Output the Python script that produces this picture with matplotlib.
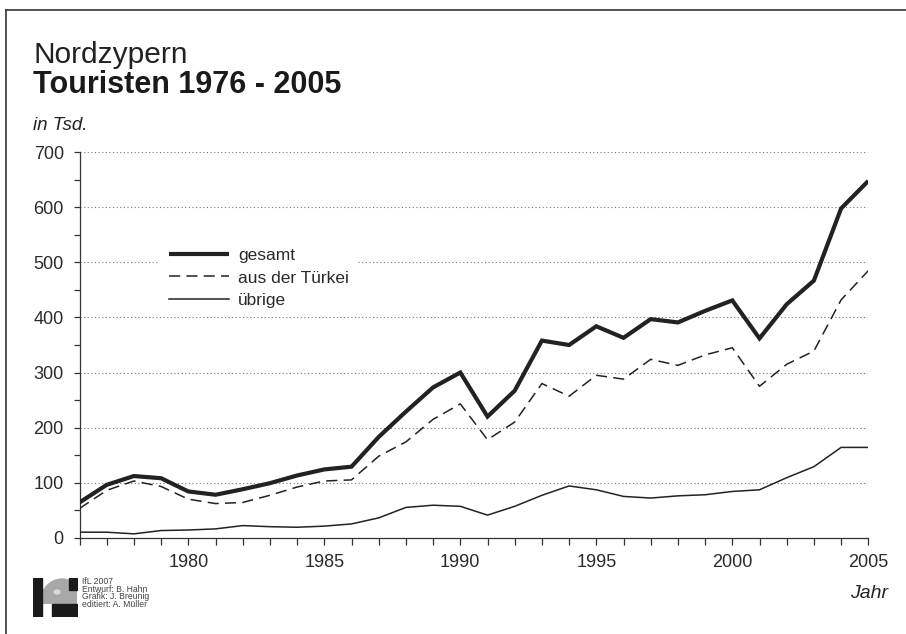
import matplotlib
matplotlib.use("Agg")
import matplotlib.pyplot as plt
from matplotlib.ticker import FixedLocator, FuncFormatter
from matplotlib.patches import Rectangle, Ellipse
from matplotlib.lines import Line2D

plt.rcParams['font.family'] = ['Liberation Sans', 'DejaVu Sans']
plt.rcParams['lines.scale_dashes'] = False

years = list(range(1976, 2006))
gesamt = [64, 96, 112, 108, 84, 78, 88, 99, 113, 124, 129, 183, 229, 273, 300,
          220, 267, 358, 350, 384, 363, 397, 391, 412, 431, 362, 424, 467, 598, 648]
tuerkei = [53, 86, 103, 93, 70, 62, 64, 77, 92, 103, 105, 148, 174, 215, 243,
           178, 210, 280, 257, 295, 288, 324, 313, 332, 345, 275, 315, 339, 432, 485]
uebrige = [10, 10, 7, 13, 14, 16, 22, 20, 19, 21, 25, 36, 55, 59, 57,
           41, 57, 77, 94, 87, 75, 72, 76, 78, 84, 87, 109, 129, 164, 164]
labels = ['gesamt', 'aus der Türkei', 'übrige']
yticks_major = [0, 100, 200, 300, 400, 500, 600, 700]
yticks_minor = [50, 150, 250, 350, 450, 550, 650]
xlabel_years = [1980, 1985, 1990, 1995, 2000, 2005]

W, H = 906, 634
fig = plt.figure(figsize=(W / 100, H / 100), dpi=100)
fig.patch.set_facecolor('white')

def fx(px):
    return px / W

def fy(py):
    return 1 - py / H

ax = fig.add_axes([fx(79.5), fy(537.7), fx(868.3) - fx(79.5), fy(152.3) - fy(537.7)])
ax.set_xlim(1976, 2005)
ax.set_ylim(0, 700)
ax.patch.set_alpha(0)

dark = '#222222'
for v in yticks_major[1:]:
    ax.plot([1976, 2005], [v, v], color='#777777', lw=0.8, ls=(0, (0.8, 1.8)), zorder=1)

ax.plot(years, uebrige, color=dark, lw=1.1, zorder=3, solid_joinstyle='miter')
ax.plot(years, tuerkei, color=dark, lw=1.1, ls=(0, (8, 4.5)), zorder=3)
ax.plot(years, gesamt, color=dark, lw=3.0, zorder=4, solid_joinstyle='miter', solid_capstyle='butt')

for s in ['top', 'right']:
    ax.spines[s].set_visible(False)
for s in ['left', 'bottom']:
    ax.spines[s].set_color('#333333')
    ax.spines[s].set_linewidth(0.9)

ax.xaxis.set_major_locator(FixedLocator(years))
ax.xaxis.set_major_formatter(FuncFormatter(lambda v, p: str(int(round(v))) if int(round(v)) in xlabel_years else ''))
ax.yaxis.set_major_locator(FixedLocator(yticks_major))
ax.yaxis.set_minor_locator(FixedLocator(yticks_minor))
ax.tick_params(axis='x', direction='out', length=5, width=0.9, color='#333333',
               labelsize=13, labelcolor='#2a2a2a', pad=7)
ax.tick_params(axis='y', which='both', direction='out', length=4.3, width=0.9, color='#333333',
               labelsize=13, labelcolor='#2a2a2a', pad=7)

handles = [Line2D([], [], color=dark, lw=3.0, solid_capstyle='butt'),
           Line2D([], [], color=dark, lw=1.1, ls=(0, (8, 4.5))),
           Line2D([], [], color=dark, lw=1.1)]
leg = ax.legend(handles, labels, loc='center left', bbox_to_anchor=(fx(160), fy(278)),
                bbox_transform=fig.transFigure, borderaxespad=0, borderpad=0.5,
                handlelength=3.5, handletextpad=0.5, labelspacing=0.42,
                fontsize=12.5, frameon=True, fancybox=False)
leg.get_frame().set_facecolor('white')
leg.get_frame().set_edgecolor('none')
leg.get_frame().set_alpha(1)
for t in leg.get_texts():
    t.set_color('#2a2a2a')

# titles
fig.text(fx(33), fy(63), 'Nordzypern', fontsize=21.5, color='#222222', va='baseline', ha='left')
fig.text(fx(33), fy(93), 'Touristen 1976 - 2005', fontsize=22, fontweight='bold',
         color='#1a1a1a', va='baseline', ha='left')
fig.text(fx(33), fy(130), 'in Tsd.', fontsize=13.5, style='italic', color='#222222',
         va='baseline', ha='left')
fig.text(fx(888), fy(598), 'Jahr', fontsize=14, style='italic', color='#222222',
         va='baseline', ha='right')

# frame lines (top and left)
fig.add_artist(Line2D([fx(6), 1], [fy(10), fy(10)], color='#333333', lw=1.2))
fig.add_artist(Line2D([fx(6), fx(6)], [fy(10), 0], color='#333333', lw=1.2))

# logo
lax = fig.add_axes([fx(33), fy(617), fx(78) - fx(33), fy(578) - fy(617)])
lax.set_xlim(33, 78)
lax.set_ylim(617, 578)
lax.axis('off')
globe = Ellipse((62, 604), 44, 50, color='#a8a8a8', zorder=1)
lax.add_patch(globe)
clip = Rectangle((41, 578), 36, 26, transform=lax.transData)
globe.set_clip_path(clip)
lax.add_patch(Rectangle((33, 578), 8.5, 38.5, color='#1a1a1a', zorder=2))
lax.add_patch(Rectangle((68.5, 578), 8.5, 11.5, color='#1a1a1a', zorder=2))
lax.add_patch(Rectangle((52, 604), 25, 12.5, color='#1a1a1a', zorder=2))
lax.add_patch(Ellipse((57, 592), 6, 4, color='#d8d8d8', zorder=1.5))

credits = ['IfL 2007', 'Entwurf: B. Hahn', 'Grafik: J. Breunig', 'editiert: A. Müller']
for i, c in enumerate(credits):
    fig.text(fx(82), fy(584 + i * 7.6), c, fontsize=6.2, color='#444444', va='baseline', ha='left')

fig.savefig('out.png', dpi=100, facecolor='white')
